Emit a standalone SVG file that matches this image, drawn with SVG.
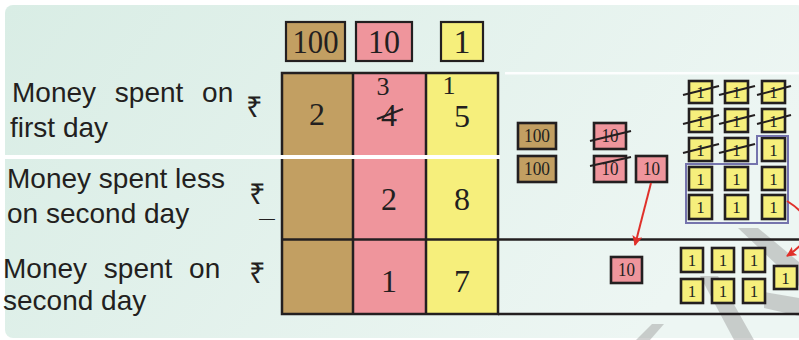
<svg xmlns="http://www.w3.org/2000/svg" width="799" height="340" viewBox="0 0 799 340">
<defs>
<linearGradient id="bg" x1="0" y1="0" x2="1" y2="0.3">
<stop offset="0" stop-color="#d9ede5"/>
<stop offset="1" stop-color="#edf6f3"/>
</linearGradient>
<marker id="ah" viewBox="0 0 10 10" refX="9" refY="5" markerWidth="5" markerHeight="5" orient="auto" markerUnits="strokeWidth">
<path d="M0,0 L10,5 L0,10 L2,5 Z" fill="#e0302a"/>
</marker>
<style>
.lbl{font-family:"Liberation Sans",Arial,sans-serif;font-size:28px;fill:#231f20}
.rs{font-family:"Noto Sans","DejaVu Sans",sans-serif;font-size:29px;fill:#231f20}
.mn{font-family:"Liberation Sans",Arial,sans-serif;font-size:12px;fill:#231f20}
.dg{font-family:"Liberation Serif","Times New Roman",serif;font-size:32px;fill:#231f20;text-anchor:middle}
.cy{font-family:"Liberation Serif","Times New Roman",serif;font-size:26px;fill:#231f20;text-anchor:middle}
.hd{font-family:"Liberation Serif","Times New Roman",serif;font-size:34px;fill:#231f20;text-anchor:middle}
.ct{font-family:"Liberation Serif","Times New Roman",serif;font-size:18px;fill:#231f20;text-anchor:middle}
.c1{font-family:"Liberation Serif","Times New Roman",serif;font-size:17px;fill:#231f20;text-anchor:middle}
.br{fill:#c29f62}
.pk{fill:#ef959c}
.ye{fill:#f6ef7c}
.box{stroke:#231f20;stroke-width:2.2}
.coin{stroke:#231f20;stroke-width:2.6}
.strike{stroke:#231f20;stroke-width:2;fill:none}
.line{stroke:#231f20;stroke-width:2.5;fill:none}
.arrow{stroke:#e0302a;stroke-width:2;fill:none;marker-end:url(#ah)}
.wm{fill:#9a9a9a;opacity:0.45}
</style>
</defs>
<rect x="0" y="0" width="799" height="340" fill="#ffffff"/>
<rect x="5" y="5" width="800" height="333" rx="8" fill="url(#bg)"/>
<g id="watermark">
<polygon class="wm" points="738,228 758,228 799,262 799,286"/>
<polygon class="wm" points="700,276 718,276 754,340 734,340"/>
<polygon class="wm" points="764,292 799,298 799,316 764,308"/>
<polygon class="wm" points="636,340 652,324 664,324 650,340"/>
</g>
<rect x="505" y="72" width="294" height="2.5" fill="#ffffff" opacity="0.9"/>

<g id="label-first-day">
<text class="lbl" x="12" y="102" word-spacing="11">Money spent on</text>
<text class="lbl" x="10" y="137">first day</text>
<text class="rs" x="246" y="117">₹</text>
</g>
<g id="label-less-second-day">
<text class="lbl" x="7" y="188">Money spent less</text>
<text class="lbl" x="7" y="223">on second day</text>
<text class="rs" x="249" y="204">₹</text>
<text class="mn" x="259" y="223" textLength="16" lengthAdjust="spacingAndGlyphs">–</text>
</g>
<g id="label-second-day">
<text class="lbl" x="3" y="278" word-spacing="9">Money spent on</text>
<text class="lbl" x="3" y="310">second day</text>
<text class="rs" x="249" y="283">₹</text>
</g>

<g id="header-100">
<rect class="br box" x="286" y="22" width="59" height="39"/>
<text class="hd" x="315.5" y="53" textLength="46" lengthAdjust="spacingAndGlyphs">100</text>
</g>
<g id="header-10">
<rect class="pk box" x="356" y="22" width="56" height="39"/>
<text class="hd" x="384" y="53" textLength="32" lengthAdjust="spacingAndGlyphs">10</text>
</g>
<g id="header-1">
<rect class="ye box" x="441" y="22" width="42" height="39"/>
<text class="hd" x="462" y="53">1</text>
</g>

<g id="table">
<rect class="br" x="282" y="73" width="71" height="241"/>
<rect class="pk" x="353" y="73" width="73" height="241"/>
<rect class="ye" x="426" y="73" width="72" height="241"/>
<line class="line" x1="353" y1="73" x2="353" y2="314"/>
<line class="line" x1="426" y1="73" x2="426" y2="314"/>
<rect class="line" x="282" y="73" width="216" height="241"/>
<line class="line" x1="282" y1="239.5" x2="799" y2="239.5"/>
<line class="line" x1="498" y1="314" x2="799" y2="314"/>
<rect x="5" y="155" width="495" height="4" fill="#ffffff"/>
<text class="dg" x="317" y="125">2</text>
<text class="cy" x="383" y="95">3</text>
<text class="dg" x="389" y="126">4</text>
<line class="strike" x1="377" y1="119" x2="403" y2="109"/>
<text class="cy" x="449" y="94">1</text>
<text class="dg" x="462" y="127">5</text>
<text class="dg" x="389" y="210">2</text>
<text class="dg" x="462" y="210">8</text>
<text class="dg" x="389" y="292">1</text>
<text class="dg" x="462" y="292">7</text>
</g>

<g id="coins-hundreds">
<rect class="br coin" x="518" y="123" width="38" height="26"/>
<text class="ct" x="537" y="142" textLength="26" lengthAdjust="spacingAndGlyphs">100</text>
<rect class="br coin" x="518" y="156" width="38" height="26"/>
<text class="ct" x="537" y="175" textLength="26" lengthAdjust="spacingAndGlyphs">100</text>
</g>

<g id="coins-tens">
<rect class="pk coin" x="594" y="123" width="32" height="26"/>
<text class="ct" x="610" y="142" textLength="17" lengthAdjust="spacingAndGlyphs">10</text>
<line class="strike" x1="590" y1="141" x2="631" y2="131"/>
<rect class="pk coin" x="594" y="156" width="32" height="26"/>
<text class="ct" x="610" y="175" textLength="17" lengthAdjust="spacingAndGlyphs">10</text>
<line class="strike" x1="590" y1="166" x2="631" y2="157"/>
<rect class="pk coin" x="636" y="156" width="31" height="26"/>
<text class="ct" x="651.5" y="175" textLength="17" lengthAdjust="spacingAndGlyphs">10</text>
</g>

<g id="coins-ones">
<rect class="ye coin" x="689" y="81" width="23" height="22"/><text class="c1" x="700.5" y="98">1</text><line class="strike" x1="683" y1="95" x2="719" y2="86"/>
<rect class="ye coin" x="725" y="81" width="23" height="22"/><text class="c1" x="736.5" y="98">1</text><line class="strike" x1="719" y1="95" x2="755" y2="86"/>
<rect class="ye coin" x="762" y="81" width="23" height="22"/><text class="c1" x="773.5" y="98">1</text><line class="strike" x1="757" y1="95" x2="791" y2="86"/>
<rect class="ye coin" x="689" y="109" width="23" height="23"/><text class="c1" x="700.5" y="127">1</text><line class="strike" x1="683" y1="124" x2="719" y2="115"/>
<rect class="ye coin" x="725" y="109" width="23" height="23"/><text class="c1" x="736.5" y="127">1</text><line class="strike" x1="719" y1="124" x2="755" y2="115"/>
<rect class="ye coin" x="762" y="109" width="23" height="23"/><text class="c1" x="773.5" y="127">1</text><line class="strike" x1="757" y1="124" x2="791" y2="115"/>
<rect class="ye coin" x="689" y="138" width="23" height="23"/><text class="c1" x="700.5" y="156">1</text><line class="strike" x1="683" y1="153" x2="719" y2="144"/>
<rect class="ye coin" x="725" y="138" width="23" height="23"/><text class="c1" x="736.5" y="156">1</text><line class="strike" x1="719" y1="153" x2="755" y2="144"/>
<rect class="ye coin" x="762" y="138" width="23" height="23"/><text class="c1" x="773.5" y="156">1</text>
<rect class="ye coin" x="689" y="167" width="23" height="23"/><text class="c1" x="700.5" y="185">1</text>
<rect class="ye coin" x="725" y="167" width="23" height="23"/><text class="c1" x="736.5" y="185">1</text>
<rect class="ye coin" x="762" y="167" width="23" height="23"/><text class="c1" x="773.5" y="185">1</text>
<rect class="ye coin" x="689" y="195" width="23" height="24"/><text class="c1" x="700.5" y="213">1</text>
<rect class="ye coin" x="725" y="195" width="23" height="24"/><text class="c1" x="736.5" y="213">1</text>
<rect class="ye coin" x="762" y="195" width="23" height="24"/><text class="c1" x="773.5" y="213">1</text>
<path d="M757,136 H788 V223 H686 V164 H757 Z" fill="none" stroke="#7574ad" stroke-width="2"/>
</g>

<g id="coins-second-day">
<rect class="pk coin" x="611" y="257" width="31" height="26"/>
<text class="ct" x="626.5" y="276" textLength="17" lengthAdjust="spacingAndGlyphs">10</text>
<rect class="ye coin" x="681" y="248" width="22" height="24"/><text class="c1" x="692" y="266">1</text>
<rect class="ye coin" x="712" y="248" width="22" height="24"/><text class="c1" x="723" y="266">1</text>
<rect class="ye coin" x="743" y="248" width="22" height="24"/><text class="c1" x="754" y="266">1</text>
<rect class="ye coin" x="681" y="279" width="22" height="24"/><text class="c1" x="692" y="297">1</text>
<rect class="ye coin" x="712" y="279" width="22" height="24"/><text class="c1" x="723" y="297">1</text>
<rect class="ye coin" x="743" y="279" width="22" height="24"/><text class="c1" x="754" y="297">1</text>
<rect class="ye coin" x="774" y="266" width="23" height="23"/><text class="c1" x="785.5" y="284">1</text>
</g>

<g id="connectors">
<line class="arrow" x1="651" y1="183" x2="635" y2="245"/>
<path class="arrow" d="M787,201 Q830,228 787,256"/>
</g>
</svg>
